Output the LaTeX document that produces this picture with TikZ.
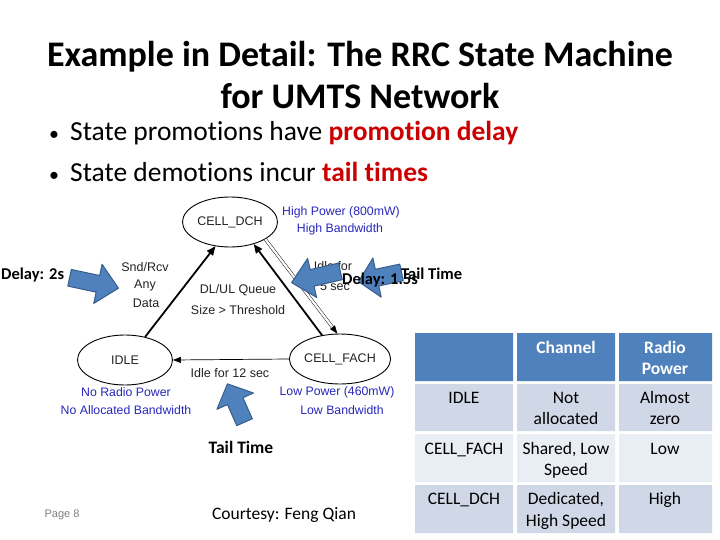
\documentclass[tikz,border=0pt]{standalone}
\usepackage{fontspec}
\setmainfont{Carlito}[Ligatures=NoCommon]
\newfontfamily\arialf{Liberation Sans}
\usetikzlibrary{arrows.meta,shapes.geometric}
\definecolor{hdr}{HTML}{4F81BD}
\definecolor{rowA}{HTML}{D0D8E8}
\definecolor{rowB}{HTML}{E9EDF4}
\definecolor{arrfill}{HTML}{4F81BD}
\definecolor{arrline}{HTML}{385D8A}
\definecolor{bluetxt}{RGB}{40,40,190}
\definecolor{redtxt}{RGB}{204,0,0}
\definecolor{diagtxt}{RGB}{35,35,35}
\newcommand\blockarr[5]{%
  \begin{scope}[shift={(#1,#2)},rotate=#3]
    \filldraw[barrow] ({-#4/2},-8.5) -- ({#4/2-#5},-8.5) -- ({#4/2-#5},-20) -- ({#4/2},0)
      -- ({#4/2-#5},20) -- ({#4/2-#5},8.5) -- ({-#4/2},8.5) -- cycle;
  \end{scope}}
\begin{document}
\begin{tikzpicture}[x=1pt,y=-1pt,
  barrow/.style={fill=arrfill,draw=arrline,line width=1pt,line join=round},
  state/.style={draw,ellipse,line width=0.9pt,minimum width=95pt,minimum height=50pt,inner sep=0pt,
    font=\arialf\fontsize{12.5}{14}\selectfont,text=diagtxt},
  dlab/.style={inner sep=0pt,font=\arialf\fontsize{12.5}{14}\selectfont,text=diagtxt},
  blab/.style={inner sep=0pt,font=\arialf\fontsize{12.3}{14}\selectfont,text=bluetxt},
  thick/.style={line width=1.8pt,-{Triangle[length=9pt,width=7.5pt]}},
  thinarr/.style={line width=0.7pt,-{Triangle[length=8pt,width=6pt]}},
  delay/.style={inner sep=0pt,font=\bfseries\fontsize{16.5}{20}\selectfont},
  cell/.style={inner sep=0pt,anchor=base,font=\fontsize{17.5}{20}\selectfont},
  hcell/.style={cell,text=white,font=\bfseries\fontsize{17.5}{20}\selectfont},
  bullet/.style={anchor=base west,inner sep=0pt,font=\fontsize{27.5}{32}\selectfont},
]
\useasboundingbox (0,0) rectangle (720,540);
\fill[white] (0,0) rectangle (720,540);

% title
\node[anchor=base,inner sep=0pt,font=\bfseries\fontsize{36}{42}\selectfont] (t1) at (360,67) {Example in Detail: The RRC State Machine};
\node[anchor=base,inner sep=0pt,font=\bfseries\fontsize{36}{42}\selectfont] (t2) at (360,109) {for UMTS Network};
% bullets
\node[bullet] (b1) at (49,141) {{\fontsize{20}{20}\selectfont\textbullet}\hspace{11pt}State promotions have \textcolor{redtxt}{\bfseries promotion delay}};
\node[bullet] (b2) at (49,182) {{\fontsize{20}{20}\selectfont\textbullet}\hspace{11pt}State demotions incur \textcolor{redtxt}{\bfseries tail times}};

% state machine
\node[state] (dch) at (230,222) {CELL\_DCH};
\node[state] (idle) at (125,360) {IDLE};
\node[state] (fach) at (340,359) {CELL\_FACH};

\draw[thick] (idle.49) -- (dch.239);
\draw[thick] (fach.127) -- (dch.317);
\draw[line width=0.45pt,double,double distance=2.2pt,-{Triangle[length=8pt,width=6pt]}] (dch.-26) -- (fach.96);
\draw[thinarr] (fach.west) -- (idle.east);

\node[dlab] (snd) at (145,267) {Snd/Rcv};
\node[dlab] (any) at (145,285) {Any};
\node[dlab] (data) at (146,303) {Data};
\node[dlab] (q1) at (238,290) {DL/UL Queue};
\node[dlab] (q2) at (238,310) {Size > Threshold};
\node[dlab] (i1) at (333,266) {Idle for};
\node[dlab] (i2) at (335,286) {5 sec};
\node[dlab] (i12) at (230,373) {Idle for 12 sec};

\node[blab] (hp) at (341,212) {High Power (800mW)};
\node[blab] (hb) at (340,229) {High Bandwidth};
\node[blab] (nr) at (126,392) {No Radio Power};
\node[blab] (nb) at (126,410) {No Allocated Bandwidth};
\node[blab] (lp) at (337,392) {Low Power (460mW)};
\node[blab] (lb) at (342,410) {Low Bandwidth};

% block arrows
\blockarr{94}{283}{-12}{50}{21}
\blockarr{316}{277}{193}{50}{21}
\blockarr{380}{277}{192}{44}{19}
\blockarr{236}{403}{114}{42}{19}

\node[delay,anchor=base west] (d2) at (1,279) {Delay: 2s};
\node[delay,anchor=base west] (tt1) at (401,279) {Tail Time};
\node[delay,anchor=base west] (d15) at (342,284) {Delay: 1.5s};
\node[delay,font=\bfseries\fontsize{17.5}{20}\selectfont] (tt2) at (241,447) {Tail Time};

% table
\fill[hdr] (415,333) rectangle (513,381) (517,333) rectangle (615,381) (619,333) rectangle (712,381);
\fill[rowA] (415,384) rectangle (513,431) (517,384) rectangle (615,431) (619,384) rectangle (712,431);
\fill[rowB] (415,434) rectangle (513,482) (517,434) rectangle (615,482) (619,434) rectangle (712,482);
\fill[rowA] (415,485) rectangle (513,533) (517,485) rectangle (615,533) (619,485) rectangle (712,533);

\node[hcell] (h2) at (566,353) {Channel};
\node[hcell] (h3a) at (665,353) {Radio};
\node[hcell] (h3b) at (665,374) {Power};
\node[cell] (r1a) at (464,403) {IDLE};
\node[cell] (r1b) at (566,403) {Not};
\node[cell] (r1c) at (566,424) {allocated};
\node[cell] (r1d) at (665,403) {Almost};
\node[cell] (r1e) at (665,424) {zero};
\node[cell] (r2a) at (464,454) {CELL\_FACH};
\node[cell] (r2b) at (566,454) {Shared, Low};
\node[cell] (r2c) at (566,475) {Speed};
\node[cell] (r2d) at (665,454) {Low};
\node[cell] (r3a) at (464,504) {CELL\_DCH};
\node[cell] (r3b) at (566,504) {Dedicated,};
\node[cell] (r3c) at (566,526) {High Speed};
\node[cell] (r3d) at (665,504) {High};

% footer
\node[inner sep=0pt,font=\arialf\fontsize{11}{13}\selectfont,text=gray] (pg) at (62,515) {Page 8};
\node[inner sep=0pt,anchor=base,font=\fontsize{17.5}{20}\selectfont] (ct) at (284,519) {Courtesy: Feng Qian};
\end{tikzpicture}
\end{document}
